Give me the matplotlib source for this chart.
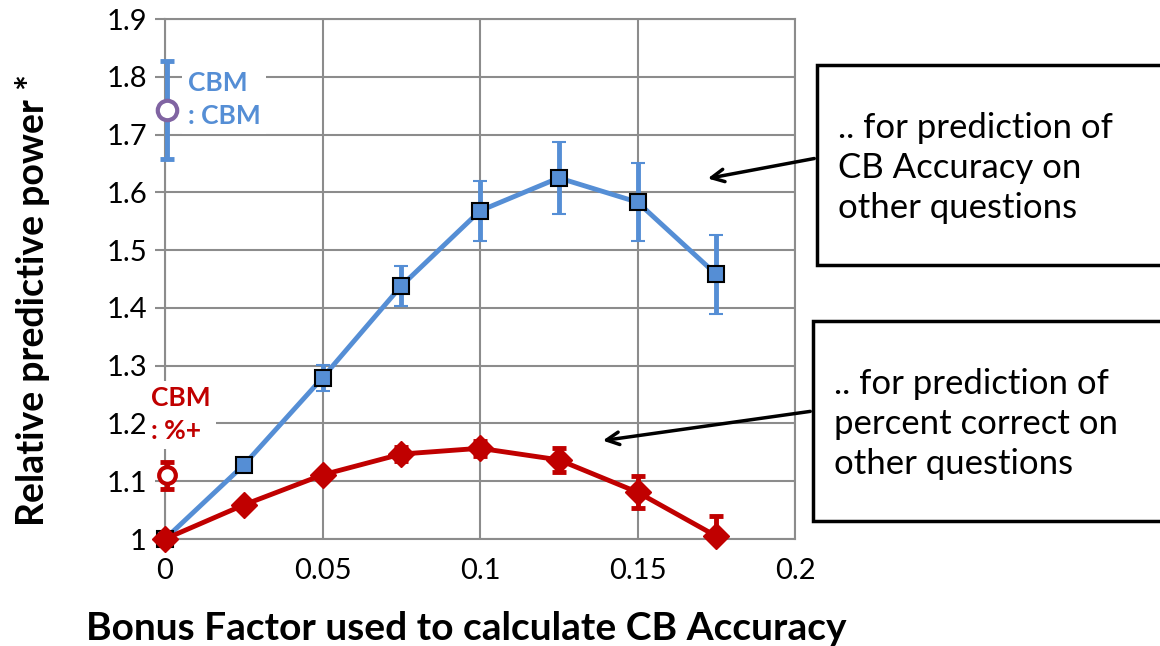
import matplotlib.pyplot as plt
from matplotlib.patches import Rectangle

plt.rcParams['font.family'] = ['Lato', 'DejaVu Sans']

# bonus factor values and predictive power
bonus = [0, 0.025, 0.05, 0.075, 0.1, 0.125, 0.15, 0.175]
cb_acc = [1.0, 1.128, 1.279, 1.438, 1.568, 1.625, 1.583, 1.458]
cb_acc_err = [0.0, 0.0, 0.023, 0.035, 0.052, 0.062, 0.067, 0.068]
pct_corr = [1.0, 1.059, 1.111, 1.147, 1.157, 1.137, 1.081, 1.005]
pct_corr_err = [0.0, 0.0, 0.0, 0.012, 0.013, 0.021, 0.028, 0.035]

# reference CBM points
cbm_cbm = 1.742
cbm_cbm_err = 0.085
cbm_pct = 1.11
cbm_pct_err = 0.023

BLUE = '#558ED5'
RED = '#C00000'
GRID = '#8C8C8C'

W, H = 1160, 646
fig = plt.figure(figsize=(W / 100, H / 100), dpi=100)
ax = fig.add_axes([165 / W, 1 - 539 / H, 630 / W, 520 / H])


def px(x, y):
    # image pixel coords -> figure fraction
    return x / W, 1 - y / H


def unclip(eb):
    eb.lines[0] and eb.lines[0].set_clip_on(False)
    for c in tuple(eb.lines[1]) + tuple(eb.lines[2]):
        c.set_clip_on(False)


unclip(ax.errorbar(bonus, cb_acc, yerr=cb_acc_err, color=BLUE, lw=3.5,
                   marker='s', ms=12, mfc=BLUE, mec='black', mew=1.5,
                   elinewidth=3.5, capsize=5, capthick=3.5, zorder=4))
eb = ax.errorbar(bonus, pct_corr, yerr=pct_corr_err, color=RED, lw=3.5,
                 marker='D', ms=13, mfc=RED, mec=RED, elinewidth=3.5,
                 capsize=5, capthick=3.5, zorder=5)
eb.lines[0].set_clip_on(False)

unclip(ax.errorbar([0.0005], [cbm_cbm], yerr=[cbm_cbm_err], color=BLUE,
                   elinewidth=3.5, capsize=5, capthick=3.5, fmt='none',
                   zorder=4))
ax.plot([0.0005], [cbm_cbm], 'o', ms=14, mfc='white', mec='#8064A2', mew=3,
        zorder=5, clip_on=False)
unclip(ax.errorbar([0.0005], [cbm_pct], yerr=[cbm_pct_err], color=RED,
                   elinewidth=3.5, capsize=5, capthick=3.5, fmt='none',
                   zorder=4))
ax.plot([0.0005], [cbm_pct], 'o', ms=12, mfc='white', mec=RED, mew=3,
        zorder=5, clip_on=False)

ax.set_xlim(0, 0.2)
ax.set_ylim(1, 1.9)
ax.set_xticks([0, 0.05, 0.1, 0.15, 0.2])
ax.set_xticklabels(['0', '0.05', '0.1', '0.15', '0.2'])
ax.set_yticks([1 + 0.1 * i for i in range(10)])
ax.set_yticklabels(['1'] + ['%.1f' % (1 + 0.1 * i) for i in range(1, 10)])
ax.tick_params(labelsize=21, color=GRID, length=7, width=1.5, pad=6)
ax.tick_params(axis='x', length=0, pad=14)
ax.grid(True, color=GRID, lw=1.5, zorder=0)
ax.set_axisbelow(True)
for s in ax.spines.values():
    s.set_color(GRID)
    s.set_linewidth(1.5)

fig.text(*px(466, 628), 'Bonus Factor used to calculate CB Accuracy',
         fontsize=28, fontweight='bold', ha='center', va='center')
fig.text(*px(33, 300), 'Relative predictive power *', fontsize=27,
         fontweight='bold', ha='center', va='center', rotation=90)

ax.text(0.0073, 1.76, 'CBM\n: CBM', color=BLUE, fontsize=19, fontweight='bold',
        va='center', ha='left', linespacing=1.45, zorder=3,
        bbox=dict(facecolor='white', edgecolor='none', pad=4))
ax.text(-0.0045, 1.215, 'CBM\n: %+', color=RED, fontsize=19, fontweight='bold',
        va='center', ha='left', linespacing=1.45, zorder=3, clip_on=False,
        bbox=dict(facecolor='white', edgecolor='none', pad=4))

# annotation boxes
for (x0, y0, y1, lines) in [
        (817, 65, 265, '.. for prediction of\nCB Accuracy on\nother questions'),
        (813, 321, 521, '.. for prediction of\npercent correct on\nother questions')]:
    fx, fy = px(x0, y1)
    fig.add_artist(Rectangle((fx, fy), (1165 - x0) / W, (y1 - y0) / H,
                             transform=fig.transFigure, facecolor='white',
                             edgecolor='black', lw=2.5))
    tx, ty = px(x0 + 21, (y0 + y1) / 2 + 3)
    fig.text(tx, ty, lines, fontsize=25, va='center', ha='left',
             linespacing=1.3)

ax.annotate('', xy=px(705, 179), xycoords='figure fraction',
            xytext=px(817, 158), textcoords='figure fraction',
            arrowprops=dict(arrowstyle='->,head_length=0.9,head_width=0.45',
                            color='black', lw=2.5))
ax.annotate('', xy=px(600, 441), xycoords='figure fraction',
            xytext=px(813, 411), textcoords='figure fraction',
            arrowprops=dict(arrowstyle='->,head_length=0.9,head_width=0.45',
                            color='black', lw=2.5))

fig.savefig('out.png', dpi=100)
